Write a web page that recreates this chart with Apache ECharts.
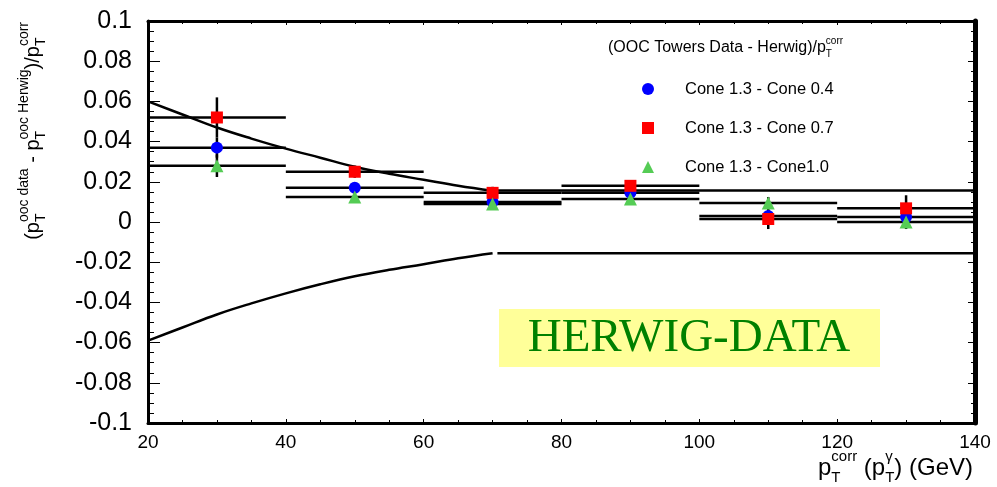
<!DOCTYPE html>
<html><head><meta charset="utf-8">
<script src="https://cdn.jsdelivr.net/npm/echarts@6/dist/echarts.min.js"></script>
<style>html,body{margin:0;padding:0;background:#fff}#c{width:997px;height:487px}</style>
</head><body><div id="c"></div>
<script>
// ---- data ----
const binCenters = [30, 50, 70, 90, 110, 130];
const binHalfWidth = [10, 10, 10, 10, 10, 10];
const cone04 = [0.037, 0.017, 0.010, 0.0145, 0.003, 0.0025];
const cone04Err = [0.005, 0.002, 0.002, 0.002, 0.003, 0.003];
const cone07 = [0.052, 0.025, 0.0145, 0.018, 0.0015, 0.0068];
const cone07Err = [0.010, 0.003, 0.003, 0.002, 0.005, 0.0065];
const cone10 = [0.028, 0.0125, 0.009, 0.0115, 0.0094, 0.0];
const cone10Err = [0.0056, 0.002, 0.002, 0.002, 0.003, 0.0035];
const bandX = [20, 25, 30, 35, 40, 45, 50, 55, 60, 65, 70];
const bandUpper = [0.060, 0.0535, 0.047, 0.0415, 0.0365, 0.032, 0.0275, 0.024, 0.021, 0.018, 0.0155];
const bandLower = [-0.059, -0.0525, -0.046, -0.0405, -0.0355, -0.031, -0.027, -0.0238, -0.021, -0.018, -0.0155];
const flatX = [70.7, 140];
const flatUpper = [0.0157, 0.0157];
const flatLower = [-0.0155, -0.0155];
const seriesNames = ['Cone 1.3 - Cone 0.4', 'Cone 1.3 - Cone 0.7', 'Cone 1.3 - Cone1.0'];
const seriesColors = ['#0000ff', '#ff0000', '#55cc55'];
const seriesSymbols = ['circle', 'rect', 'triangle'];

// ---- helpers ----
const FONT = '"Liberation Sans", Arial, sans-serif';
const mctx = document.createElement('canvas').getContext('2d');
function tw(t, s) { mctx.font = s + 'px ' + FONT; return mctx.measureText(t).width; }
function txt(t, x, y, s) {
  return { type: 'text', x: x, y: y, style: { text: t, font: s + 'px ' + FONT, fill: '#000',
    align: 'left', verticalAlign: 'middle', textAlign: 'left', textVerticalAlign: 'middle' } };
}
function mathGroup(pieces, main, script, gx, gy, rotation, anchor) {
  let cur = 0; const ch = [];
  const supDy = -main * 0.45, subDy = main * 0.4;
  pieces.forEach(p => {
    if (typeof p === 'string') { ch.push(txt(p, cur, 0, main)); cur += tw(p, main); }
    else {
      let w = 0;
      if (p.sup) { ch.push(txt(p.sup, cur, supDy, script)); w = Math.max(w, tw(p.sup, script)); }
      if (p.sub) { ch.push(txt(p.sub, cur, subDy, script)); w = Math.max(w, tw(p.sub, script)); }
      cur += w;
    }
  });
  const off = anchor === 'end' ? -cur : anchor === 'center' ? -cur / 2 : 0;
  ch.forEach(c => { c.x += off; });
  return { type: 'group', x: gx, y: gy, rotation: rotation || 0, children: ch, silent: true };
}

const chart = echarts.init(document.getElementById('c'));

function errSeries(vals, errs, z) {
  return {
    type: 'custom', z: z, silent: true,
    data: binCenters.map((x, i) => [x, vals[i], binHalfWidth[i], errs[i]]),
    encode: { x: 0, y: 1 },
    renderItem: function (params, api) {
      const x = api.value(0), y = api.value(1), xe = api.value(2), ye = api.value(3);
      const pL = api.coord([x - xe, y]), pR = api.coord([x + xe, y]);
      const pT = api.coord([x, y + ye]), pB = api.coord([x, y - ye]);
      return { type: 'group', children: [
        { type: 'line', shape: { x1: pL[0], y1: pL[1], x2: pR[0], y2: pR[1] }, style: { stroke: '#000', lineWidth: 2.5 } },
        { type: 'line', shape: { x1: pT[0], y1: pT[1], x2: pB[0], y2: pB[1] }, style: { stroke: '#000', lineWidth: 2.5 } }
      ] };
    }
  };
}
function lineSeries(xs, ys, smooth) {
  return { type: 'line', data: xs.map((x, i) => [x, ys[i]]), smooth: smooth, symbol: 'none', silent: true,
    lineStyle: { color: '#000', width: 2.5 }, z: 2 };
}
const markerVals = [cone04, cone07, cone10];
const markerSizes = [12, 12, 13];

const option = {
  animation: false,
  backgroundColor: '#fff',
  grid: { left: 148, right: 22, top: 21, bottom: 64 },
  xAxis: [
    { type: 'value', min: 20, max: 140, interval: 20, position: 'bottom',
      axisLine: { onZero: false, lineStyle: { color: '#000', width: 3 } },
      axisTick: { inside: true, length: 4, lineStyle: { color: '#000', width: 1 } },
      minorTick: { show: true, splitNumber: 4, length: 3, lineStyle: { color: '#000', width: 1 } },
      axisLabel: { color: '#000', fontFamily: FONT, fontSize: 19, margin: 10 },
      splitLine: { show: false } },
    { type: 'value', min: 20, max: 140, interval: 20, position: 'top',
      axisLine: { onZero: false, lineStyle: { color: '#000', width: 3 } },
      axisTick: { inside: true, length: 4, lineStyle: { color: '#000', width: 1 } },
      minorTick: { show: true, splitNumber: 4, length: 3, lineStyle: { color: '#000', width: 1 } },
      axisLabel: { show: false }, splitLine: { show: false } }
  ],
  yAxis: [
    { type: 'value', min: -0.1, max: 0.1, interval: 0.02, position: 'left',
      axisLine: { onZero: false, lineStyle: { color: '#000', width: 3 } },
      axisTick: { inside: true, length: 12, lineStyle: { color: '#000', width: 1 } },
      minorTick: { show: true, splitNumber: 4, length: 6, lineStyle: { color: '#000', width: 1 } },
      axisLabel: { color: '#000', fontFamily: FONT, fontSize: 25, margin: 16,
        formatter: v => String(Math.round(v * 100) / 100) },
      splitLine: { show: false } },
    { type: 'value', min: -0.1, max: 0.1, interval: 0.02, position: 'right',
      axisLine: { onZero: false, lineStyle: { color: '#000', width: 5 } },
      axisTick: { inside: true, length: 7, lineStyle: { color: '#000', width: 1 } },
      minorTick: { show: true, splitNumber: 4, length: 4, lineStyle: { color: '#000', width: 1 } },
      axisLabel: { show: false }, splitLine: { show: false } }
  ],
  legend: {
    orient: 'vertical', left: 637, top: 74, itemWidth: 12, itemHeight: 12, itemGap: 19,
    selectedMode: false, data: seriesNames,
    textStyle: { fontFamily: FONT, fontSize: 16.5, color: '#000', padding: [0, 0, 0, 26], lineHeight: 20 }
  },
  series: [
    lineSeries(bandX, bandUpper, 0.4),
    lineSeries(bandX, bandLower, 0.4),
    lineSeries(flatX, flatUpper, false),
    lineSeries(flatX, flatLower, false),
    errSeries(cone04, cone04Err, 3),
    errSeries(cone07, cone07Err, 3),
    errSeries(cone10, cone10Err, 3)
  ].concat(seriesNames.map((n, k) => ({
    type: 'scatter', name: n, symbol: seriesSymbols[k], symbolSize: markerSizes[k], z: 4 + k,
    itemStyle: { color: seriesColors[k], opacity: 1 },
    data: binCenters.map((x, i) => [x, markerVals[k][i]])
  }))),
  graphic: [
    { type: 'rect', shape: { x: 499, y: 309, width: 381, height: 58 }, style: { fill: '#ffff99' }, z: 10, silent: true },
    { type: 'text', x: 689, y: 339, z: 11, silent: true,
      style: { text: 'HERWIG-DATA', font: '47px "Liberation Serif", "Times New Roman", serif', fill: '#008000',
        align: 'center', verticalAlign: 'middle', textAlign: 'center', textVerticalAlign: 'middle' } },
    mathGroup(['(OOC Towers Data - Herwig)/p', { sub: 'T', sup: 'corr' }], 16, 10, 608, 48, 0, 'start'),
    mathGroup(['p', { sub: 'T', sup: 'corr' }, ' (p', { sub: 'T', sup: 'γ' }, ') (GeV)'], 24, 15, 818, 468, 0, 'start'),
    mathGroup(['(p', { sub: 'T', sup: 'ooc data' }, ' - p', { sub: 'T', sup: 'ooc Herwig' }, ')/p', { sub: 'T', sup: 'corr' }],
      20, 14, 33, 22, Math.PI / 2, 'end')
  ]
};
chart.setOption(option);
</script>
</body></html>
